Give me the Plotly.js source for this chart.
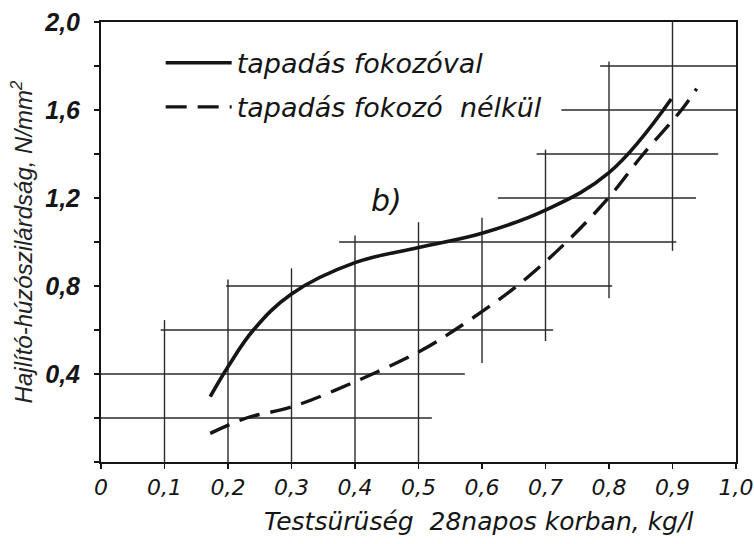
<!DOCTYPE html>
<html>
<head>
<meta charset="utf-8">
<script src="https://cdn.plot.ly/plotly-3.0.1.min.js"></script>
<style>html,body{margin:0;padding:0;background:#fff;}#chart{width:754px;height:544px;}</style>
</head>
<body>
<div id="chart"></div>
<script>
// ---- Data ----
// Curve with adhesion promoter (solid)
const solidX = [0.172, 0.200, 0.240, 0.300, 0.400, 0.500, 0.600, 0.700, 0.800, 0.898];
const solidY = [0.297, 0.433, 0.600, 0.764, 0.906, 0.975, 1.040, 1.145, 1.315, 1.650];
// Curve without adhesion promoter (dashed)
const dashX = [0.172, 0.229, 0.300, 0.400, 0.500, 0.557, 0.655, 0.733, 0.799, 0.854, 0.914, 0.938];
const dashY = [0.130, 0.200, 0.250, 0.365, 0.500, 0.600, 0.800, 1.000, 1.200, 1.400, 1.600, 1.697];
const seriesNames = ["tapadás fokozóval", "tapadás fokozó  nélkül"];

// Staircase grid: horizontal segments (y, from x, to x)
const hGridY  = [0.2, 0.4, 0.6, 0.8, 1.0, 1.2, 1.4, 1.6, 1.8];
const hGridX0 = [0.0, 0.0, 0.094, 0.197, 0.375, 0.625, 0.686, 0.725, 0.786];
const hGridX1 = [0.521, 0.573, 0.712, 0.805, 0.906, 0.937, 0.972, 1.0, 1.0];
// vertical segments (x, from y, to y)
const vGridX  = [0.1, 0.2, 0.3, 0.4, 0.5, 0.6, 0.7, 0.8, 0.9];
const vGridY0 = [0.0, 0.0, 0.0, 0.0, 0.0, 0.45, 0.55, 0.744, 0.96];
const vGridY1 = [0.645, 0.83, 0.88, 1.03, 1.09, 1.11, 1.42, 1.82, 2.0];

// Ticks and labels
const xTickVals = [0, 0.1, 0.2, 0.3, 0.4, 0.5, 0.6, 0.7, 0.8, 0.9, 1.0];
const xTickText = ["0", "0,1", "0,2", "0,3", "0,4", "0,5", "0,6", "0,7", "0,8", "0,9", "1,0"];
const yTickVals = [0.4, 0.8, 1.2, 1.6, 2.0];
const yTickText = ["0,4", "0,8", "1,2", "1,6", "2,0"];

const xTitle = "Testsürüség  28napos korban, kg/l";
const yTitle = "Hajlító-húzószilárdság, N/mm<sup>2</sup>";
const panelLabel = "b)";

// ---- Build traces ----
const gx = [], gy = [];
hGridY.forEach((y, i) => { gx.push(hGridX0[i], hGridX1[i], null); gy.push(y, y, null); });
vGridX.forEach((x, i) => { gx.push(x, x, null); gy.push(vGridY0[i], vGridY1[i], null); });

const ink = "#151515";
const handFont = "'DejaVu Sans', 'Liberation Sans', sans-serif";
const printFont = "'Liberation Sans', Arial, sans-serif";

const traces = [
  { x: gx, y: gy, mode: "lines", line: { color: "#2a2a2a", width: 1.4 }, showlegend: false, hoverinfo: "skip", cliponaxis: false },
  { x: solidX, y: solidY, name: seriesNames[0], mode: "lines", line: { color: ink, width: 3.6, shape: "spline", smoothing: 1.1 }, legendgroup: "a" },
  { x: dashX, y: dashY, name: seriesNames[1], mode: "lines", line: { color: ink, width: 3.4, shape: "spline", smoothing: 1.0, dash: "21px,11px" }, legendgroup: "b" }
];

const layout = {
  width: 754, height: 544, autosize: false,
  margin: { l: 101, r: 18, t: 22, b: 82 },
  paper_bgcolor: "#ffffff", plot_bgcolor: "#ffffff",
  showlegend: true,
  legend: {
    x: 0.094, y: 0.962, xanchor: "left", yanchor: "top",
    bgcolor: "rgba(0,0,0,0)", borderwidth: 0,
    font: { family: handFont, style: "italic", size: 27, color: ink },
    itemwidth: 66, tracegroupgap: 6, traceorder: "grouped"
  },
  xaxis: {
    range: [0, 1], showgrid: false, zeroline: false,
    showline: true, mirror: true, linecolor: ink, linewidth: 2,
    ticks: "outside", ticklen: 5, tickwidth: 1.5, tickcolor: ink,
    tickvals: xTickVals, ticktext: xTickText,
    tickfont: { family: handFont, style: "italic", size: 22, color: ink },
    ticklabelstandoff: 0, ticklabeloverflow: "allow",
    fixedrange: true
  },
  yaxis: {
    range: [0, 2], showgrid: false, zeroline: false,
    showline: true, mirror: true, linecolor: ink, linewidth: 2,
    ticks: "outside", ticklen: 5, tickwidth: 1.5, tickcolor: ink,
    tickvals: yTickVals, ticktext: yTickText,
    minor: { dtick: 0.2, tick0: 0, ticks: "outside", ticklen: 5, tickwidth: 1.5, tickcolor: ink, showgrid: false },
    tickfont: { family: printFont, style: "italic", weight: "bold", size: 25, color: ink },
    ticklabelstandoff: 9,
    title: { text: yTitle, font: { family: printFont, style: "italic", size: 24, color: "#222" }, standoff: 5 },
    automargin: false,
    fixedrange: true
  },
  annotations: [
    { x: 0.449, y: 1.19, xref: "x", yref: "y", text: panelLabel, showarrow: false,
      font: { family: handFont, style: "italic", size: 30, color: ink } },
    { x: 0.595, y: -0.097, xref: "paper", yref: "paper", text: xTitle, showarrow: false,
      xanchor: "center", yanchor: "top",
      font: { family: handFont, style: "italic", size: 25, color: ink } }
  ]
};

Plotly.newPlot("chart", traces, layout, { displayModeBar: false, staticPlot: true });
</script>
</body>
</html>
